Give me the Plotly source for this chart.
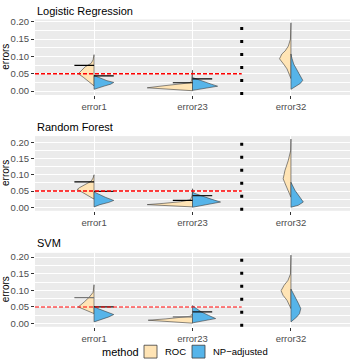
import plotly.graph_objects as go

# ---------------- data ----------------
categories = ["error1", "error23", "error32"]
methods = ["ROC", "NP−adjusted"]
panels = ["Logistic Regression", "Random Forest", "SVM"]
alpha_level = 0.05

# Half-violin density profiles (y grid, half-width in category units), one list per category
LR_ROC_Y = [[0.015, 0.02, 0.03, 0.04, 0.05, 0.06, 0.07, 0.08, 0.09, 0.105],
            [0.001, 0.005, 0.0094, 0.014, 0.019, 0.024, 0.03, 0.045, 0.06],
            [0.036, 0.05, 0.064, 0.078, 0.093, 0.107, 0.116, 0.13, 0.15, 0.197]]
LR_ROC_W = [[0, 0.02, 0.06, 0.11, 0.16, 0.13, 0.09, 0.03, 0.01, 0],
            [0, 0.23, 0.46, 0.33, 0.16, 0.02, 0.01, 0.005, 0],
            [0, 0.023, 0.04, 0.075, 0.116, 0.092, 0.058, 0.026, 0.005, 0]]
LR_NP_Y = [[0.005, 0.01, 0.015, 0.02, 0.025, 0.03, 0.04, 0.045],
           [0.002, 0.008, 0.014, 0.02, 0.03, 0.039],
           [0.005, 0.012, 0.022, 0.031, 0.041, 0.06, 0.078, 0.095, 0.107]]
LR_NP_W = [[0, 0.046, 0.11, 0.17, 0.2, 0.13, 0.04, 0],
           [0, 0.13, 0.255, 0.19, 0.09, 0],
           [0, 0.044, 0.095, 0.12, 0.10, 0.06, 0.028, 0.01, 0]]

RF_ROC_Y = [[0.025, 0.03, 0.04, 0.05, 0.055, 0.06, 0.07, 0.08, 0.09, 0.1],
            [0.001, 0.004, 0.008, 0.012, 0.017, 0.023, 0.035, 0.05],
            [0.031, 0.042, 0.062, 0.0875, 0.113, 0.143, 0.174, 0.21]]
RF_ROC_W = [[0, 0.03, 0.09, 0.15, 0.17, 0.15, 0.09, 0.03, 0.01, 0],
            [0, 0.2, 0.46, 0.29, 0.12, 0.02, 0.005, 0],
            [0, 0.017, 0.044, 0.079, 0.061, 0.028, 0.003, 0]]
RF_NP_Y = [[0.001, 0.008, 0.015, 0.021, 0.03, 0.04, 0.047],
           [0.0, 0.008, 0.016, 0.025, 0.035, 0.044, 0.057],
           [0.0, 0.006, 0.016, 0.031, 0.052, 0.077]]
RF_NP_W = [[0, 0.06, 0.15, 0.2, 0.12, 0.05, 0],
           [0, 0.14, 0.285, 0.19, 0.09, 0.01, 0],
           [0, 0.074, 0.126, 0.092, 0.041, 0]]

SVM_ROC_Y = [[0.03, 0.04, 0.05, 0.065, 0.079, 0.094, 0.117],
             [0.001, 0.005, 0.01, 0.014, 0.018, 0.022, 0.03],
             [0.045, 0.055, 0.07, 0.085, 0.099, 0.115, 0.13, 0.149, 0.206]]
SVM_ROC_W = [[0, 0.08, 0.16, 0.1, 0.05, 0.01, 0],
             [0, 0.2, 0.45, 0.27, 0.1, 0.02, 0],
             [0, 0.015, 0.04, 0.08, 0.1, 0.07, 0.03, 0.005, 0]]
SVM_NP_Y = [[0.005, 0.012, 0.02, 0.027, 0.035, 0.045, 0.052],
            [0.002, 0.008, 0.015, 0.025, 0.035, 0.045, 0.054],
            [0.005, 0.012, 0.02, 0.03, 0.045, 0.06, 0.079, 0.092, 0.104]]
SVM_NP_W = [[0, 0.08, 0.15, 0.2, 0.12, 0.04, 0],
            [0, 0.13, 0.235, 0.16, 0.09, 0.04, 0],
            [0, 0.03, 0.06, 0.087, 0.1, 0.077, 0.044, 0.02, 0]]

# Upper quantile segments per method (None = not shown)
LR_ROC_Q = [0.074, 0.024, None]
LR_NP_Q = [0.044, 0.035, None]
RF_ROC_Q = [0.078, 0.021, None]
RF_NP_Q = [0.049, 0.036, None]
SVM_ROC_Q = [0.078, 0.020, None]
SVM_NP_Q = [0.050, 0.035, None]

# ---------------- styles / layout ----------------
ROC_FILL = "#FFE4B5"
NP_FILL = "#56B4E9"
OUTLINE = "#3C3C3C"
FONT = "Liberation Sans, Arial, sans-serif"
W, H = 354, 364
X_LEFT, X_RIGHT = 35, 350
panel_px = [(16.7, 93.3), (135.0, 210.7), (253.3, 328.3)]
title_px = [8.5, 125.5, 243.5]
y_ranges = [[-0.0114, 0.2065], [-0.011, 0.219], [-0.0098, 0.213]]
seg_half = 0.2
seg_colors = [("#000000", "#000000"), ("#000000", "#1a1a1a"), ("#777777", "#111111")]
red_widths = [1.6, 1.3, 1.1]

panel_data = [
    (LR_ROC_Y, LR_ROC_W, LR_NP_Y, LR_NP_W, LR_ROC_Q, LR_NP_Q),
    (RF_ROC_Y, RF_ROC_W, RF_NP_Y, RF_NP_W, RF_ROC_Q, RF_NP_Q),
    (SVM_ROC_Y, SVM_ROC_W, SVM_NP_Y, SVM_NP_W, SVM_ROC_Q, SVM_NP_Q),
]

fig = go.Figure()
shapes = []
annotations = []
cat_pos = list(range(1, len(categories) + 1))

for p, (ry, rw, ny, nw, rq, nq) in enumerate(panel_data):
    ax = "" if p == 0 else str(p + 1)
    xref, yref = "x" + ax, "y" + ax
    for ci, c in enumerate(cat_pos):
        # left half (ROC)
        xs = [c - w for w in rw[ci]] + [c]
        ys = list(ry[ci]) + [ry[ci][0]]
        fig.add_trace(go.Scatter(x=xs, y=ys, mode="lines", fill="toself",
                                 fillcolor=ROC_FILL, line=dict(color=OUTLINE, width=0.6),
                                 xaxis=xref, yaxis=yref, showlegend=False, hoverinfo="skip"))
        # right half (NP-adjusted)
        xs = [c + w for w in nw[ci]] + [c]
        ys = list(ny[ci]) + [ny[ci][0]]
        fig.add_trace(go.Scatter(x=xs, y=ys, mode="lines", fill="toself",
                                 fillcolor=NP_FILL, line=dict(color=OUTLINE, width=0.6),
                                 xaxis=xref, yaxis=yref, showlegend=False, hoverinfo="skip"))
    # quantile segments
    for ci, c in enumerate(cat_pos):
        if rq[ci] is not None:
            fig.add_trace(go.Scatter(x=[c - seg_half, c], y=[rq[ci], rq[ci]], mode="lines",
                                     line=dict(color=seg_colors[p][0], width=1.2),
                                     xaxis=xref, yaxis=yref, showlegend=False, hoverinfo="skip"))
        if nq[ci] is not None:
            fig.add_trace(go.Scatter(x=[c, c + seg_half], y=[nq[ci], nq[ci]], mode="lines",
                                     line=dict(color=seg_colors[p][1], width=1.2),
                                     xaxis=xref, yaxis=yref, showlegend=False, hoverinfo="skip"))
    # alpha line (red dashed) up to the separator
    fig.add_trace(go.Scatter(x=[0.4, 2.5], y=[alpha_level, alpha_level], mode="lines",
                             line=dict(color="red", width=red_widths[p], dash="4px,2px"),
                             xaxis=xref, yaxis=yref, showlegend=False, hoverinfo="skip"))
    # dotted separator between error23 and error32
    shapes.append(dict(type="line", xref=xref, yref=yref + " domain", x0=2.5, x1=2.5, y0=0, y1=1,
                       line=dict(color="black", width=3, dash="3px,10px"), layer="above"))

    top, bot = panel_px[p]
    dom_y = [1 - bot / H, 1 - top / H]
    axis_common = dict(showline=False, zeroline=False, ticks="outside", ticklen=3,
                       tickwidth=1, tickcolor="#333333",
                       tickfont=dict(family=FONT, size=9.5, color="#4D4D4D"))
    fig.update_layout(**{
        "xaxis" + ax: dict(domain=[X_LEFT / W, X_RIGHT / W], anchor=yref, range=[0.4, 3.6],
                           tickvals=cat_pos, ticktext=categories, showgrid=True,
                           gridcolor="white", gridwidth=1.1, **axis_common),
        "yaxis" + ax: dict(domain=dom_y, anchor=xref, range=y_ranges[p], tick0=0, dtick=0.05,
                           tickformat=".2f", showgrid=True, gridcolor="white", gridwidth=1.1,
                           minor=dict(dtick=0.025, tick0=0, showgrid=True, gridcolor="white",
                                      gridwidth=0.5, ticks=""),
                           **axis_common),
    })
    # panel title
    annotations.append(dict(text=panels[p], xref="paper", yref="paper", x=X_LEFT / W,
                            y=1 - title_px[p] / H, xanchor="left", yanchor="middle",
                            showarrow=False, font=dict(family=FONT, size=11, color="black")))
    # y-axis title
    annotations.append(dict(text="errors", xref="paper", yref="paper", x=5.5 / W,
                            y=1 - (top + bot) / 2 / H, xanchor="center", yanchor="middle",
                            textangle=-90, showarrow=False,
                            font=dict(family=FONT, size=10, color="black")))

# legend (manual, ggplot style)
leg_y = 353.5
annotations.append(dict(text="method", xref="paper", yref="paper", x=100 / W, y=1 - leg_y / H,
                        xanchor="left", yanchor="middle", showarrow=False,
                        font=dict(family=FONT, size=11, color="black")))
for x0, fillc, label, lx in [(144, ROC_FILL, methods[0], 163), (192, NP_FILL, methods[1], 211)]:
    shapes.append(dict(type="rect", xref="paper", yref="paper", x0=x0 / W, x1=(x0 + 13) / W,
                       y0=1 - (leg_y + 6.5) / H, y1=1 - (leg_y - 6.5) / H,
                       fillcolor=fillc, line=dict(color="#3C3C3C", width=0.8)))
    annotations.append(dict(text=label, xref="paper", yref="paper", x=lx / W, y=1 - leg_y / H,
                            xanchor="left", yanchor="middle", showarrow=False,
                            font=dict(family=FONT, size=9.5, color="black")))

fig.update_layout(width=W, height=H, margin=dict(l=0, r=0, t=0, b=0),
                  paper_bgcolor="white", plot_bgcolor="#EBEBEB",
                  shapes=shapes, annotations=annotations, showlegend=False,
                  font=dict(family=FONT))
fig.write_html("out.html", config={"displayModeBar": False},
               post_script="document.body.style.margin='0';document.body.style.overflow='hidden';")
